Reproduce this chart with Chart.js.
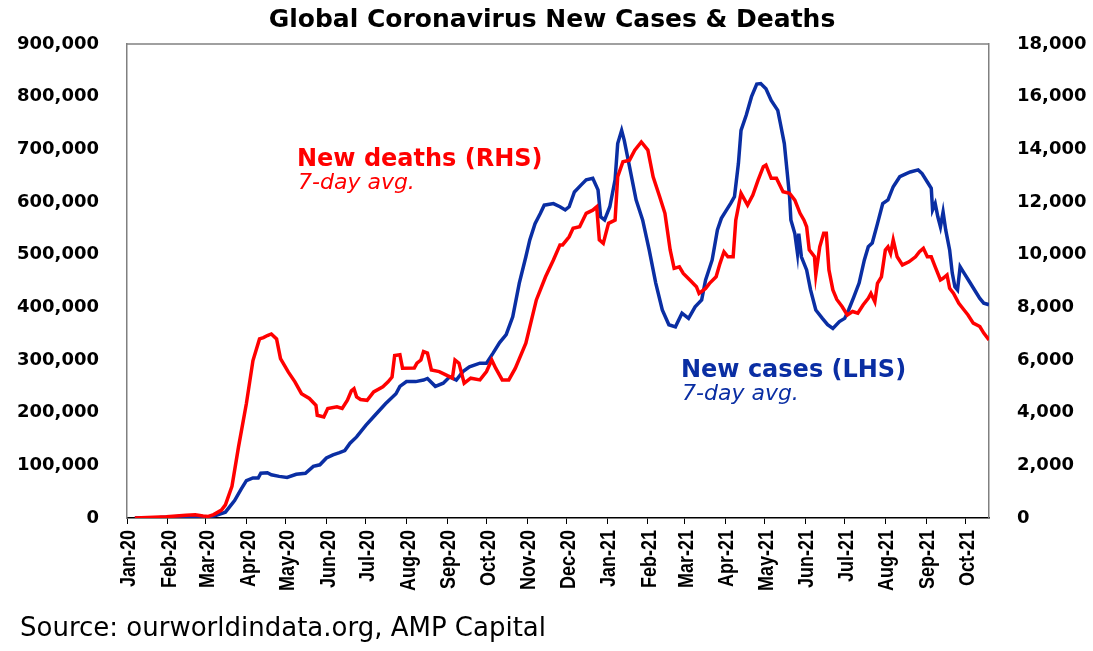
<!DOCTYPE html>
<html><head><meta charset="utf-8">
<script src="https://cdn.jsdelivr.net/npm/chart.js@4.4.0/dist/chart.umd.min.js"></script>
<style>html,body{margin:0;padding:0;background:#fff}#wrap{width:1093px;height:651px;position:relative}</style>
</head><body><div id="wrap"><canvas id="c"></canvas></div>
<script>
const chartTitle = 'Global Coronavirus New Cases & Deaths';
const sourceText = 'Source: ourworldindata.org, AMP Capital';
const deathsLabel = ['New deaths (RHS)', '7-day avg.'];
const casesLabel = ['New cases (LHS)', '7-day avg.'];

const monthLabels = ['Jan-20','Feb-20','Mar-20','Apr-20','May-20','Jun-20','Jul-20','Aug-20','Sep-20','Oct-20','Nov-20','Dec-20',
  'Jan-21','Feb-21','Mar-21','Apr-21','May-21','Jun-21','Jul-21','Aug-21','Sep-21','Oct-21'];
const axisStart = '2020-01-01';
const axisEnd = '2021-10-19';

const casesDates = ['2020-01-07','2020-01-26','2020-02-10','2020-02-18','2020-02-26','2020-03-03','2020-03-09','2020-03-16','2020-03-23','2020-03-28',
'2020-04-01','2020-04-06','2020-04-10','2020-04-12','2020-04-17','2020-04-20','2020-04-26','2020-05-02','2020-05-09','2020-05-16',
'2020-05-22','2020-05-27','2020-06-01','2020-06-06','2020-06-11','2020-06-15','2020-06-19','2020-06-24','2020-07-01','2020-07-08',
'2020-07-16','2020-07-24','2020-07-27','2020-08-01','2020-08-08','2020-08-14','2020-08-17','2020-08-23','2020-08-29','2020-09-03',
'2020-09-08','2020-09-13','2020-09-18','2020-09-26','2020-10-01','2020-10-06','2020-10-11','2020-10-16','2020-10-21','2020-10-26',
'2020-10-31','2020-11-03','2020-11-07','2020-11-11','2020-11-14','2020-11-21','2020-11-26','2020-11-30','2020-12-03','2020-12-07',
'2020-12-12','2020-12-16','2020-12-21','2020-12-25','2020-12-27','2020-12-30','2021-01-03','2021-01-07','2021-01-09','2021-01-12',
'2021-01-14','2021-01-18','2021-01-23','2021-01-28','2021-02-02','2021-02-07','2021-02-12','2021-02-17','2021-02-22','2021-02-27',
'2021-03-04','2021-03-09','2021-03-14','2021-03-17','2021-03-22','2021-03-26','2021-03-29','2021-04-02','2021-04-05','2021-04-08',
'2021-04-11','2021-04-13','2021-04-17','2021-04-21','2021-04-25','2021-04-28','2021-05-02','2021-05-06','2021-05-11','2021-05-13',
'2021-05-16','2021-05-18','2021-05-20','2021-05-21','2021-05-24','2021-05-26','2021-05-27','2021-05-29','2021-06-02','2021-06-05',
'2021-06-09','2021-06-14','2021-06-18','2021-06-22','2021-06-27','2021-07-01','2021-07-04','2021-07-08','2021-07-12','2021-07-16',
'2021-07-19','2021-07-22','2021-07-26','2021-07-30','2021-08-03','2021-08-07','2021-08-12','2021-08-17','2021-08-20','2021-08-26',
'2021-08-29','2021-09-02','2021-09-05','2021-09-06','2021-09-08','2021-09-10','2021-09-12','2021-09-14','2021-09-16','2021-09-19',
'2021-09-21','2021-09-23','2021-09-25','2021-09-27','2021-09-30','2021-10-04','2021-10-08','2021-10-12','2021-10-15','2021-10-19'];
const casesValues = [0,1000,3000,2500,1500,2000,5000,11000,33000,55000,
71000,76000,76000,85000,86000,82000,79000,77000,83000,85000,
98000,101000,114000,120000,124000,128000,142000,154000,176000,195000,
217000,236000,250000,259000,259000,262000,265000,250000,256000,268000,
262000,278000,287000,294000,294000,313000,333000,348000,382000,446000,
496000,528000,559000,578000,594000,597000,591000,585000,591000,619000,
632000,642000,645000,623000,572000,566000,591000,642000,711000,736000,
717000,667000,604000,566000,509000,446000,395000,367000,363000,389000,
379000,401000,414000,452000,490000,547000,569000,585000,597000,610000,
673000,736000,765000,800000,824000,825000,815000,793000,774000,749000,
711000,661000,610000,566000,540000,503000,540000,496000,471000,433000,
395000,379000,367000,360000,373000,379000,395000,420000,446000,490000,
515000,522000,559000,597000,604000,629000,648000,654000,657000,661000,
654000,638000,626000,585000,597000,572000,553000,581000,547000,509000,
465000,439000,433000,477000,465000,449000,433000,417000,408000,405000];

const deathsDates = ['2020-01-07','2020-01-31','2020-02-15','2020-02-22','2020-02-28','2020-03-03','2020-03-07','2020-03-13','2020-03-16','2020-03-21',
'2020-03-26','2020-04-01','2020-04-06','2020-04-11','2020-04-14','2020-04-17','2020-04-20','2020-04-24','2020-04-27','2020-05-03',
'2020-05-08','2020-05-13','2020-05-19','2020-05-24','2020-05-25','2020-05-30','2020-06-02','2020-06-09','2020-06-13','2020-06-17',
'2020-06-20','2020-06-22','2020-06-24','2020-06-27','2020-07-02','2020-07-07','2020-07-14','2020-07-18','2020-07-21','2020-07-23',
'2020-07-27','2020-07-29','2020-08-07','2020-08-09','2020-08-12','2020-08-14','2020-08-17','2020-08-20','2020-08-26','2020-08-31',
'2020-09-05','2020-09-07','2020-09-10','2020-09-14','2020-09-19','2020-09-26','2020-10-01','2020-10-05','2020-10-08','2020-10-13',
'2020-10-18','2020-10-23','2020-10-31','2020-11-08','2020-11-15','2020-11-21','2020-11-26','2020-11-28','2020-12-03','2020-12-06',
'2020-12-11','2020-12-16','2020-12-21','2020-12-24','2020-12-26','2020-12-29','2021-01-02','2021-01-07','2021-01-09','2021-01-13',
'2021-01-18','2021-01-22','2021-01-27','2021-02-01','2021-02-05','2021-02-10','2021-02-14','2021-02-18','2021-02-21','2021-02-25',
'2021-02-28','2021-03-05','2021-03-10','2021-03-12','2021-03-17','2021-03-20','2021-03-25','2021-03-28','2021-03-31','2021-04-03',
'2021-04-07','2021-04-09','2021-04-13','2021-04-18','2021-04-22','2021-04-26','2021-04-30','2021-05-02','2021-05-06','2021-05-10',
'2021-05-15','2021-05-20','2021-05-24','2021-05-28','2021-05-31','2021-06-02','2021-06-04','2021-06-08','2021-06-09','2021-06-12',
'2021-06-15','2021-06-17','2021-06-19','2021-06-22','2021-06-25','2021-06-29','2021-07-03','2021-07-07','2021-07-11','2021-07-15',
'2021-07-19','2021-07-21','2021-07-24','2021-07-26','2021-07-29','2021-08-01','2021-08-03','2021-08-05','2021-08-07','2021-08-10',
'2021-08-14','2021-08-19','2021-08-24','2021-08-27','2021-08-30','2021-09-02','2021-09-05','2021-09-08','2021-09-12','2021-09-14',
'2021-09-17','2021-09-19','2021-09-22','2021-09-26','2021-09-30','2021-10-03','2021-10-07','2021-10-12','2021-10-15','2021-10-19'];
const deathsValues = [0,50,100,120,80,60,130,300,500,1200,
2700,4350,5980,6800,6850,6930,6990,6800,6050,5540,
5170,4720,4540,4280,3900,3840,4160,4220,4160,4470,
4830,4910,4600,4500,4470,4790,4980,5170,5350,6170,
6200,5690,5700,5880,6000,6320,6260,5620,5560,5435,
5310,6000,5880,5120,5310,5245,5560,6000,5690,5245,
5245,5690,6640,8280,9160,9800,10370,10370,10680,11000,
11060,11570,11690,11820,10560,10430,11190,11310,12960,13530,
13590,13970,14280,13970,12960,12200,11570,10180,9480,9540,
9290,9040,8785,8530,8720,8910,9160,9670,10110,9920,
9920,11310,12330,11880,12260,12830,13340,13400,12900,12900,
12390,12330,12070,11570,11310,11060,10180,9920,9230,10300,
10810,10810,9420,8660,8300,8030,7710,7840,7775,8090,
8345,8530,8215,8910,9160,10180,10300,10050,10560,9920,
9610,9730,9920,10110,10240,9920,9920,9540,9040,9100,
9230,8720,8530,8150,7900,7710,7400,7270,7020,6760];

const RED = '#ff0000';
const BLUE = '#0a2ea3';

const MONTHS = ['Jan','Feb','Mar','Apr','May','Jun','Jul','Aug','Sep','Oct','Nov','Dec'];
const base = Date.UTC(2020,0,1);
function dayOf(s){ const [y,m,d] = s.split('-').map(Number); return (Date.UTC(y,m-1,d)-base)/86400000; }
function labelDay(l){ const [mn,yy] = l.split('-'); return (Date.UTC(2000+Number(yy), MONTHS.indexOf(mn), 1)-base)/86400000; }
const tickDays = monthLabels.map(labelDay);
const tickMap = {}; tickDays.forEach((d,i)=>tickMap[d]=monthLabels[i]);

// Thicken the rotated month labels (the original artwork is stretched horizontally)
const labelStretch = {
  id:'labelStretch',
  beforeDraw(chart){
    const xs = chart.scales.x;
    if (!xs || xs._stretched) return;
    const orig = xs.drawLabels;
    xs.drawLabels = function(area){
      const ctx = this.ctx;
      const origRotate = ctx.rotate;
      ctx.rotate = function(a){ origRotate.call(this, a); if (a !== 0) this.scale(1, 1.2); };
      try { orig.call(this, area); } finally { ctx.rotate = origRotate; }
    };
    xs._stretched = true;
  }
};

const decor = {
  id:'decor',
  afterDraw(chart){
    const {ctx, chartArea:a} = chart;
    ctx.save();
    ctx.strokeStyle = '#808080'; ctx.lineWidth = 1.5;
    ctx.beginPath(); ctx.moveTo(a.left, a.top); ctx.lineTo(a.right, a.top); ctx.stroke();
    ctx.textBaseline = 'alphabetic';
    ctx.fillStyle = '#000'; ctx.textAlign = 'center';
    ctx.font = 'bold 25px "DejaVu Sans"';
    ctx.fillText(chartTitle, 552, 27);
    ctx.textAlign = 'left';
    ctx.fillStyle = RED;
    ctx.font = 'bold 24px "DejaVu Sans"';
    ctx.fillText(deathsLabel[0], 297, 166);
    ctx.font = 'oblique 22px "DejaVu Sans"';
    ctx.fillText(deathsLabel[1], 298, 189);
    ctx.fillStyle = BLUE;
    ctx.font = 'bold 24px "DejaVu Sans"';
    ctx.fillText(casesLabel[0], 681, 377);
    ctx.font = 'oblique 22px "DejaVu Sans"';
    ctx.fillText(casesLabel[1], 682, 400);
    ctx.fillStyle = '#000';
    ctx.font = '26px "DejaVu Sans"';
    ctx.fillText(sourceText, 20, 636);
    ctx.restore();
  }
};

const yFont = {family:'"DejaVu Sans"', weight:'bold', size:18};

new Chart(document.getElementById('c'), {
  type:'line',
  data:{datasets:[
    {label:'New deaths', yAxisID:'y1', order:0,
     data: deathsDates.map((d,i)=>({x:dayOf(d), y:deathsValues[i]})),
     borderColor:RED, borderWidth:3.5, pointRadius:0, tension:0, fill:false},
    {label:'New cases', yAxisID:'y', order:1,
     data: casesDates.map((d,i)=>({x:dayOf(d), y:casesValues[i]})),
     borderColor:BLUE, borderWidth:3.5, pointRadius:0, tension:0, fill:false}
  ]},
  options:{
    responsive:true, maintainAspectRatio:false, animation:false,
    layout:{padding:{top:44,left:0,right:0,bottom:0}},
    plugins:{legend:{display:false}, tooltip:{enabled:false}, title:{display:false}},
    scales:{
      x:{type:'linear', min:dayOf(axisStart), max:dayOf(axisEnd),
         afterBuildTicks: s => { s.ticks = tickDays.map(v=>({value:v})); },
         ticks:{autoSkip:false, minRotation:90, maxRotation:90, padding:6, color:'#000',
           callback: v => tickMap[v] || '',
           font:{family:'"Liberation Sans", Arial', weight:'bold', size:18}},
         grid:{drawOnChartArea:false, drawTicks:true, tickLength:6, color:'#000', lineWidth:1},
         border:{color:'#000', width:1.5},
         afterFit: s => { s.height = 133; }},
      y:{position:'left', min:0, max:900000,
         ticks:{stepSize:100000, padding:20, color:'#000', font:yFont, callback: v => v.toLocaleString('en-US')},
         grid:{display:false}, border:{color:'#808080', width:1.5},
         afterFit: s => { s.width = 127; }},
      y1:{position:'right', min:0, max:18000,
         ticks:{stepSize:2000, padding:20, color:'#000', font:yFont, callback: v => v.toLocaleString('en-US')},
         grid:{display:false}, border:{color:'#808080', width:1.5},
         afterFit: s => { s.width = 104; }}
    }
  },
  plugins:[labelStretch, decor]
});
</script>
</body></html>
